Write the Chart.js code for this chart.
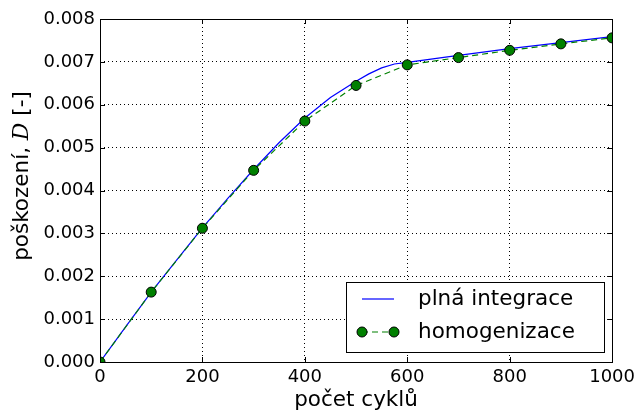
<!DOCTYPE html>
<html>
<head>
<meta charset="utf-8">
<script src="https://cdn.jsdelivr.net/npm/chart.js@4.4.0/dist/chart.umd.min.js"></script>
<style>
  html, body { margin: 0; padding: 0; background: #ffffff; }
  #chart { display: block; }
</style>
</head>
<body>
<canvas id="chart" width="640" height="414"></canvas>
<script>
// Data -----------------------------------------------------------------------
var fullCycles = [0, 50, 100, 150, 200, 250, 300, 350, 400, 450, 500, 525, 550, 575, 600, 650, 700, 800, 900, 1000];
var fullDamage = [0, 0.00082, 0.00163, 0.00238, 0.00313, 0.00382, 0.00449, 0.00512, 0.00569, 0.00617,
                  0.00655, 0.00672, 0.00686, 0.00695, 0.00699, 0.00707, 0.00715, 0.00731, 0.00745, 0.00759];
var homCycles = [0, 100, 200, 300, 400, 500, 600, 700, 800, 900, 1000];
var homDamage = [0, 0.00163, 0.00312, 0.00447, 0.00562, 0.00645, 0.00693, 0.00710, 0.00727, 0.00742, 0.00756];
var xTicks = [0, 200, 400, 600, 800, 1000];
var yTicks = [0, 0.001, 0.002, 0.003, 0.004, 0.005, 0.006, 0.007, 0.008];
var seriesNames = ['plná integrace', 'homogenizace'];
var xTitle = 'počet cyklů';
var yTitleParts = ['poškození, ', 'D', ' [-]'];

// Styles ---------------------------------------------------------------------
var colors = ['#0000FF', '#008000', '#000000', '#FFFFFF'];
var fontFamily = '"DejaVu Sans", sans-serif';

function toPoints(xs, ys) {
    var pts = [];
    for (var i = 0; i < xs.length; i++) {
        pts.push({ x: xs[i], y: ys[i] });
    }
    return pts;
}

// Frame, inward ticks, y title and legend box (matplotlib look) ------------
var framePlugin = {
    id: 'frame',
    afterDraw: function(chart) {
        var ctx = chart.ctx;
        var area = chart.chartArea;
        var xs = chart.scales.x;
        var ys = chart.scales.y;
        var tick = 5;

        ctx.save();
        ctx.strokeStyle = colors[2];
        ctx.lineWidth = 1;
        ctx.setLineDash([]);
        ctx.beginPath();
        xTicks.forEach(function(v) {
            var px = Math.round(xs.getPixelForValue(v)) + 0.5;
            ctx.moveTo(px, area.bottom);
            ctx.lineTo(px, area.bottom - tick);
            ctx.moveTo(px, area.top);
            ctx.lineTo(px, area.top + tick);
        });
        yTicks.forEach(function(v) {
            var py = Math.round(ys.getPixelForValue(v)) + 0.5;
            ctx.moveTo(area.left, py);
            ctx.lineTo(area.left + tick, py);
            ctx.moveTo(area.right, py);
            ctx.lineTo(area.right - tick, py);
        });
        ctx.stroke();
        ctx.strokeRect(Math.round(area.left) + 0.5, Math.round(area.top) + 0.5,
                       Math.round(area.right - area.left), Math.round(area.bottom - area.top));

        // y title with italic D
        var sans = '21.5px ' + fontFamily;
        var ital = 'italic 22px "DejaVu Serif", serif';
        ctx.font = sans;
        var w0 = ctx.measureText(yTitleParts[0]).width;
        var w2 = ctx.measureText(yTitleParts[2]).width;
        ctx.font = ital;
        var w1 = ctx.measureText(yTitleParts[1]).width;
        var total = w0 + w1 + w2;
        ctx.translate(22, 176);
        ctx.rotate(-Math.PI / 2);
        ctx.fillStyle = colors[2];
        ctx.textBaseline = 'middle';
        ctx.textAlign = 'left';
        var x0 = -total / 2;
        ctx.font = sans;
        ctx.fillText(yTitleParts[0], x0, 0);
        ctx.font = ital;
        ctx.fillText(yTitleParts[1], x0 + w0, 0);
        ctx.font = sans;
        ctx.fillText(yTitleParts[2], x0 + w0 + w1, 0);
        ctx.restore();

        // legend box
        ctx.save();
        var bx = 346.5, by = 282.5, bw = 258, bh = 70;
        ctx.fillStyle = colors[3];
        ctx.fillRect(bx, by, bw, bh);
        ctx.strokeStyle = colors[2];
        ctx.lineWidth = 1;
        ctx.strokeRect(bx, by, bw, bh);

        var ds0 = chart.data.datasets[0];
        var ds1 = chart.data.datasets[1];
        var row1 = 299, row2 = 332;
        var sx0 = 362, sx1 = 394;

        ctx.strokeStyle = ds0.borderColor;
        ctx.lineWidth = ds0.borderWidth;
        ctx.beginPath();
        ctx.moveTo(sx0, row1);
        ctx.lineTo(sx1, row1);
        ctx.stroke();

        ctx.strokeStyle = ds1.borderColor;
        ctx.lineWidth = ds1.borderWidth;
        ctx.setLineDash(ds1.borderDash);
        ctx.beginPath();
        ctx.moveTo(sx0, row2);
        ctx.lineTo(sx1, row2);
        ctx.stroke();
        ctx.setLineDash([]);
        [sx0, sx1].forEach(function(px) {
            ctx.beginPath();
            ctx.arc(px, row2, ds1.pointRadius, 0, Math.PI * 2);
            ctx.fillStyle = ds1.pointBackgroundColor;
            ctx.fill();
            ctx.strokeStyle = ds1.pointBorderColor;
            ctx.lineWidth = ds1.pointBorderWidth;
            ctx.stroke();
        });

        ctx.fillStyle = colors[2];
        ctx.font = '21.5px ' + fontFamily;
        ctx.textBaseline = 'middle';
        ctx.textAlign = 'left';
        ctx.fillText(seriesNames[0], 418, row1);
        ctx.fillText(seriesNames[1], 418, row2);
        ctx.restore();
    }
};

// Chart ----------------------------------------------------------------------
const ctx_damage = document.getElementById('chart').getContext('2d');

const chartDamage = new Chart(ctx_damage, {
    type: 'line',
    data: {
        datasets: [{
            label: seriesNames[0],
            data: toPoints(fullCycles, fullDamage),
            borderColor: colors[0],
            borderWidth: 1.2,
            pointRadius: 0,
            tension: 0,
            fill: false,
            clip: 0,
            order: 2
        }, {
            label: seriesNames[1],
            data: toPoints(homCycles, homDamage),
            borderColor: colors[1],
            borderWidth: 1.2,
            borderDash: [6, 4],
            pointRadius: 5,
            pointBackgroundColor: colors[1],
            pointBorderColor: colors[2],
            pointBorderWidth: 1,
            tension: 0,
            fill: false,
            clip: 0,
            order: 1
        }]
    },
    options: {
        responsive: false,
        animation: false,
        devicePixelRatio: 1,
        layout: {
            padding: { top: 19, right: 26, left: 0, bottom: 0 }
        },
        plugins: {
            legend: { display: false },
            tooltip: { enabled: false }
        },
        scales: {
            x: {
                type: 'linear',
                min: 0,
                max: 1000,
                afterBuildTicks: function(scale) {
                    scale.ticks = xTicks.map(function(v) { return { value: v }; });
                },
                afterFit: function(scale) { scale.height = 52; },
                grid: {
                    color: colors[2],
                    lineWidth: 1,
                    drawTicks: false
                },
                border: { display: false, dash: [1, 3] },
                ticks: {
                    color: colors[2],
                    padding: 5,
                    maxRotation: 0,
                    autoSkip: false,
                    font: { family: fontFamily, size: 18 },
                    callback: function(v) { return String(v); }
                },
                title: {
                    display: true,
                    text: xTitle,
                    color: colors[2],
                    font: { family: fontFamily, size: 21.5, lineHeight: 1.2 },
                    padding: { top: 0, bottom: 1 }
                }
            },
            y: {
                type: 'linear',
                min: 0,
                max: 0.008,
                afterBuildTicks: function(scale) {
                    scale.ticks = yTicks.map(function(v) { return { value: v }; });
                },
                afterFit: function(scale) { scale.width = 100; },
                grid: {
                    color: colors[2],
                    lineWidth: 1,
                    drawTicks: false
                },
                border: { display: false, dash: [1, 3] },
                ticks: {
                    color: colors[2],
                    padding: 5,
                    autoSkip: false,
                    font: { family: fontFamily, size: 18 },
                    callback: function(v) { return Number(v).toFixed(3); }
                }
            }
        }
    },
    plugins: [framePlugin]
});
</script>
</body>
</html>
